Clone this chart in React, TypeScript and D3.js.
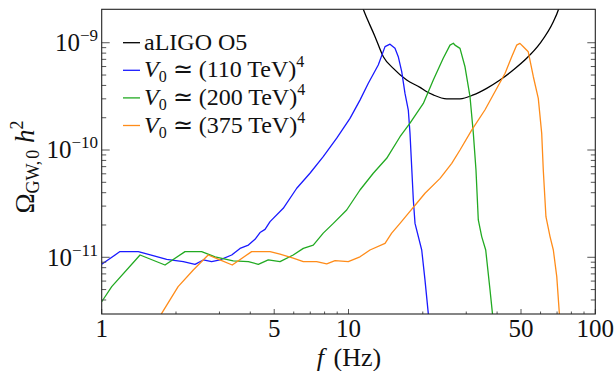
import React from "react";
import * as d3 from "d3";

// GW spectra, f in Hz vs Omega_GW,0 h^2
const aligoO5: [number, number][] = [
  [11.2, 2.4e-9], [11.48, 2.05e-9], [12.81, 1.14e-9], [13.84, 7.41e-10], [15.19, 5.77e-10],
  [17.21, 4.49e-10], [19.49, 3.84e-10], [20.75, 3.49e-10], [22.06, 3.26e-10], [25.0, 3.0e-10],
  [28.3, 3.0e-10], [32.05, 3.26e-10], [36.3, 3.76e-10], [41.1, 4.49e-10], [46.5, 5.57e-10],
  [52.7, 7.16e-10], [59.7, 9.87e-10], [67.6, 1.57e-9], [70.8, 2.02e-9], [72, 2.3e-9],
];

const v110: [number, number][] = [
  [1, 8.6e-12], [1.186, 1.13e-11], [1.407, 1.13e-11], [1.834, 9.57e-12], [2.141, 9.1e-12],
  [2.388, 8.6e-12], [2.58, 9.44e-12], [2.79, 9.1e-12], [3.015, 9.44e-12], [3.363, 1.05e-11],
  [3.635, 1.21e-11], [3.93, 1.3e-11], [4.18, 1.47e-11], [4.38, 1.7e-11], [4.59, 1.82e-11],
  [4.81, 2.15e-11], [5.44, 2.86e-11], [6.17, 4.4e-11], [6.98, 6.07e-11], [7.9, 8.67e-11],
  [8.96, 1.29e-10], [10.14, 1.97e-10], [11.13, 2.92e-10], [12.03, 4.19e-10], [13.2, 6.2e-10],
  [14.06, 9.2e-10], [14.73, 9.7e-10], [15.43, 8.87e-10], [15.91, 7.41e-10], [16.43, 5.37e-10],
  [16.94, 3.37e-10], [17.47, 2.36e-10], [17.75, 1.43e-10], [18.31, 3.42e-11], [18.6, 2.07e-11],
  [19.8, 1.17e-11], [20.42, 6.1e-12], [21.05, 3.0e-12], [21.3, 2.5e-12],
];

const v200: [number, number][] = [
  [1, 3.85e-12], [1.098, 5.32e-12], [1.43, 1.05e-11], [1.805, 8.47e-12], [2.176, 1.13e-11],
  [2.54, 1.13e-11], [2.88, 1.01e-11], [3.41, 9.25e-12], [3.93, 9.1e-12], [4.31, 8.6e-12],
  [4.73, 9.44e-12], [5.28, 9.1e-12], [5.97, 1.05e-11], [6.56, 1.21e-11], [7.2, 1.3e-11],
  [7.9, 1.68e-11], [8.68, 2.07e-11], [9.83, 2.76e-11], [11.13, 4.24e-11], [12.6, 6.07e-11],
  [14.28, 8.37e-11], [16.17, 1.33e-10], [17.75, 1.78e-10], [20.1, 2.72e-10], [22.06, 4.49e-10],
  [24.2, 7.16e-10], [25.78, 9.5e-10], [26.6, 9.9e-10], [27.0, 9.5e-10], [28.3, 8.87e-10],
  [29.65, 5.97e-10], [31.07, 3.14e-10], [32.05, 1.43e-10], [32.85, 6.52e-11], [33.57, 2.23e-11],
  [34.65, 1.56e-11], [35.97, 1.17e-11], [37.45, 4.95e-12], [38.3, 3.0e-12], [38.6, 2.5e-12],
];

const v375: [number, number][] = [
  [1.72, 2.6e-12], [1.75, 3.0e-12], [2.04, 5.32e-12], [2.35, 7.62e-12], [2.7, 1.05e-11],
  [3.015, 9.44e-12], [3.38, 8.47e-12], [4.05, 1.13e-11], [4.81, 1.13e-11], [5.28, 1.07e-11],
  [5.97, 9.8e-12], [6.56, 9.1e-12], [7.43, 9.1e-12], [8.16, 8.67e-12], [8.82, 9.3e-12],
  [9.98, 9.1e-12], [11.13, 1.01e-11], [12.22, 1.17e-11], [14.06, 1.35e-11], [14.96, 1.68e-11],
  [16.17, 2.07e-11], [17.47, 2.57e-11], [18.9, 3.19e-11], [20.42, 3.95e-11], [23.5, 5.44e-11],
  [26.2, 7.52e-11], [28.3, 1.0e-10], [31.56, 1.53e-10], [35.7, 2.36e-10], [39.2, 3.49e-10],
  [43.1, 5.19e-10], [45.85, 7.41e-10], [48.0, 9.5e-10], [49.5, 9.87e-10], [51.1, 9.18e-10],
  [53.5, 8.24e-10], [56.1, 4.82e-10], [58.75, 3.03e-10], [60.65, 1.43e-10], [61.55, 6.52e-11],
  [63.1, 2.39e-11], [65.55, 1.56e-11], [67.6, 1.17e-11], [69.8, 6.6e-12], [71.5, 3.0e-12],
  [71.8, 2.5e-12],
];

const xMajorTicks = [1, 5, 10, 50, 100];
const xMinorTicks = [2, 3, 4, 6, 7, 8, 9, 20, 30, 40, 60, 70, 80, 90];
const yMajorExps = [-11, -10, -9];

const series = [
  { key: "aligo", data: aligoO5, color: "#000000", label: "aLIGO O5" },
  { key: "v110", data: v110, color: "#1a1aff", label: "110" },
  { key: "v200", data: v200, color: "#22aa22", label: "200" },
  { key: "v375", data: v375, color: "#ff8c1a", label: "375" },
];

const W = 615;
const H = 371;
const left = 101.7, right = 595.3, top = 9.3, bottom = 314;

const App: React.FC = () => {
  const x = d3.scaleLog().domain([1, 100]).range([left, right]);
  const y = d3.scaleLog().domain([2.96e-12, 2.05e-9]).range([bottom, top]);

  const line = d3.line<[number, number]>().x(d => x(d[0])).y(d => y(d[1]));
  const smooth = d3.line<[number, number]>().x(d => x(d[0])).y(d => y(d[1])).curve(d3.curveMonotoneX);

  const yMinor: number[] = [];
  [-12, -11, -10, -9].forEach(e => {
    for (let k = 2; k <= 9; k++) {
      const v = k * Math.pow(10, e);
      const py = y(v);
      if (py > top + 3 && py < bottom - 1) yMinor.push(v);
    }
  });

  return (
    <svg width={W} height={H} style={{ position: "absolute", left: 0, top: 0, fontFamily: "Liberation Serif, serif" }}>
      <style>{`body{margin:0}`}</style>
      <defs>
        <clipPath id="plotClip">
          <rect x={left} y={top} width={right - left} height={bottom - top} />
        </clipPath>
      </defs>
      <rect width={W} height={H} fill="#fff" />

      <g clipPath="url(#plotClip)">
        {series.map(s => (
          <path key={s.key} d={(s.key === "aligo" ? smooth(s.data) : line(s.data)) || ""}
            fill="none" stroke={s.color} strokeWidth={1.3} strokeLinejoin="round" />
        ))}
      </g>

      {/* ticks */}
      <g stroke="#555" strokeWidth={1}>
        {xMajorTicks.map(t => (
          <line key={"xM" + t} x1={x(t)} x2={x(t)} y1={bottom} y2={bottom - 5} />
        ))}
        {xMinorTicks.map(t => (
          <line key={"xm" + t} x1={x(t)} x2={x(t)} y1={bottom} y2={bottom - 2.5} />
        ))}
        {yMajorExps.map(e => (
          <g key={"yM" + e}>
            <line x1={left} x2={left + 8} y1={y(Math.pow(10, e))} y2={y(Math.pow(10, e))} />
            <line x1={right} x2={right - 8} y1={y(Math.pow(10, e))} y2={y(Math.pow(10, e))} />
          </g>
        ))}
        {yMinor.map(v => (
          <g key={"ym" + v}>
            <line x1={left} x2={left + 4.5} y1={y(v)} y2={y(v)} />
            <line x1={right} x2={right - 4.5} y1={y(v)} y2={y(v)} />
          </g>
        ))}
      </g>

      <rect x={left} y={top} width={right - left} height={bottom - top} fill="none" stroke="#222" strokeWidth={1.1} />

      {/* tick labels */}
      <g fontSize={25} fill="#111">
        {xMajorTicks.map(t => (
          <text key={"xl" + t} x={x(t)} y={bottom + 22.5} textAnchor="middle">{t}</text>
        ))}
        {yMajorExps.map(e => (
          <text key={"yl" + e} x={98} y={y(Math.pow(10, e)) + 8.3} textAnchor="end">
            10<tspan fontSize={17} dy={-10}>{"\u2212" + Math.abs(e)}</tspan>
          </text>
        ))}
      </g>

      {/* axis titles */}
      <text x={349} y={366} textAnchor="middle" fontSize={26} fill="#111">
        <tspan fontStyle="italic">f</tspan><tspan dx={3}>{" (Hz)"}</tspan>
      </text>
      <text transform={`translate(34, 167) rotate(-90)`} textAnchor="middle" fontSize={27} fill="#111">
        Ω<tspan fontSize={18} dy={5}>GW,</tspan><tspan fontSize={18} dx={2}>0</tspan><tspan dy={-5}> </tspan>
        <tspan fontStyle="italic">h</tspan><tspan fontSize={18} dy={-11}>2</tspan>
      </text>

      {/* legend */}
      <g fontSize={24} fill="#111">
        {series.map((s, i) => {
          const ly = 42.7 + i * 27.6;
          return (
            <g key={"lg" + s.key}>
              <line x1={123} x2={140} y1={ly} y2={ly} stroke={s.color} strokeWidth={1.3} />
              {i === 0 ? (
                <text x={144} y={ly + 7}>{s.label}</text>
              ) : (
                <text x={144} y={ly + 7}>
                  <tspan fontStyle="italic">V</tspan>
                  <tspan fontSize={16} dy={5}>0</tspan>
                  <tspan dy={-5}>{` ≃ (${s.label} TeV)`}</tspan>
                  <tspan fontSize={16} dy={-10}>4</tspan>
                </text>
              )}
            </g>
          );
        })}
      </g>
    </svg>
  );
};

export default App;
